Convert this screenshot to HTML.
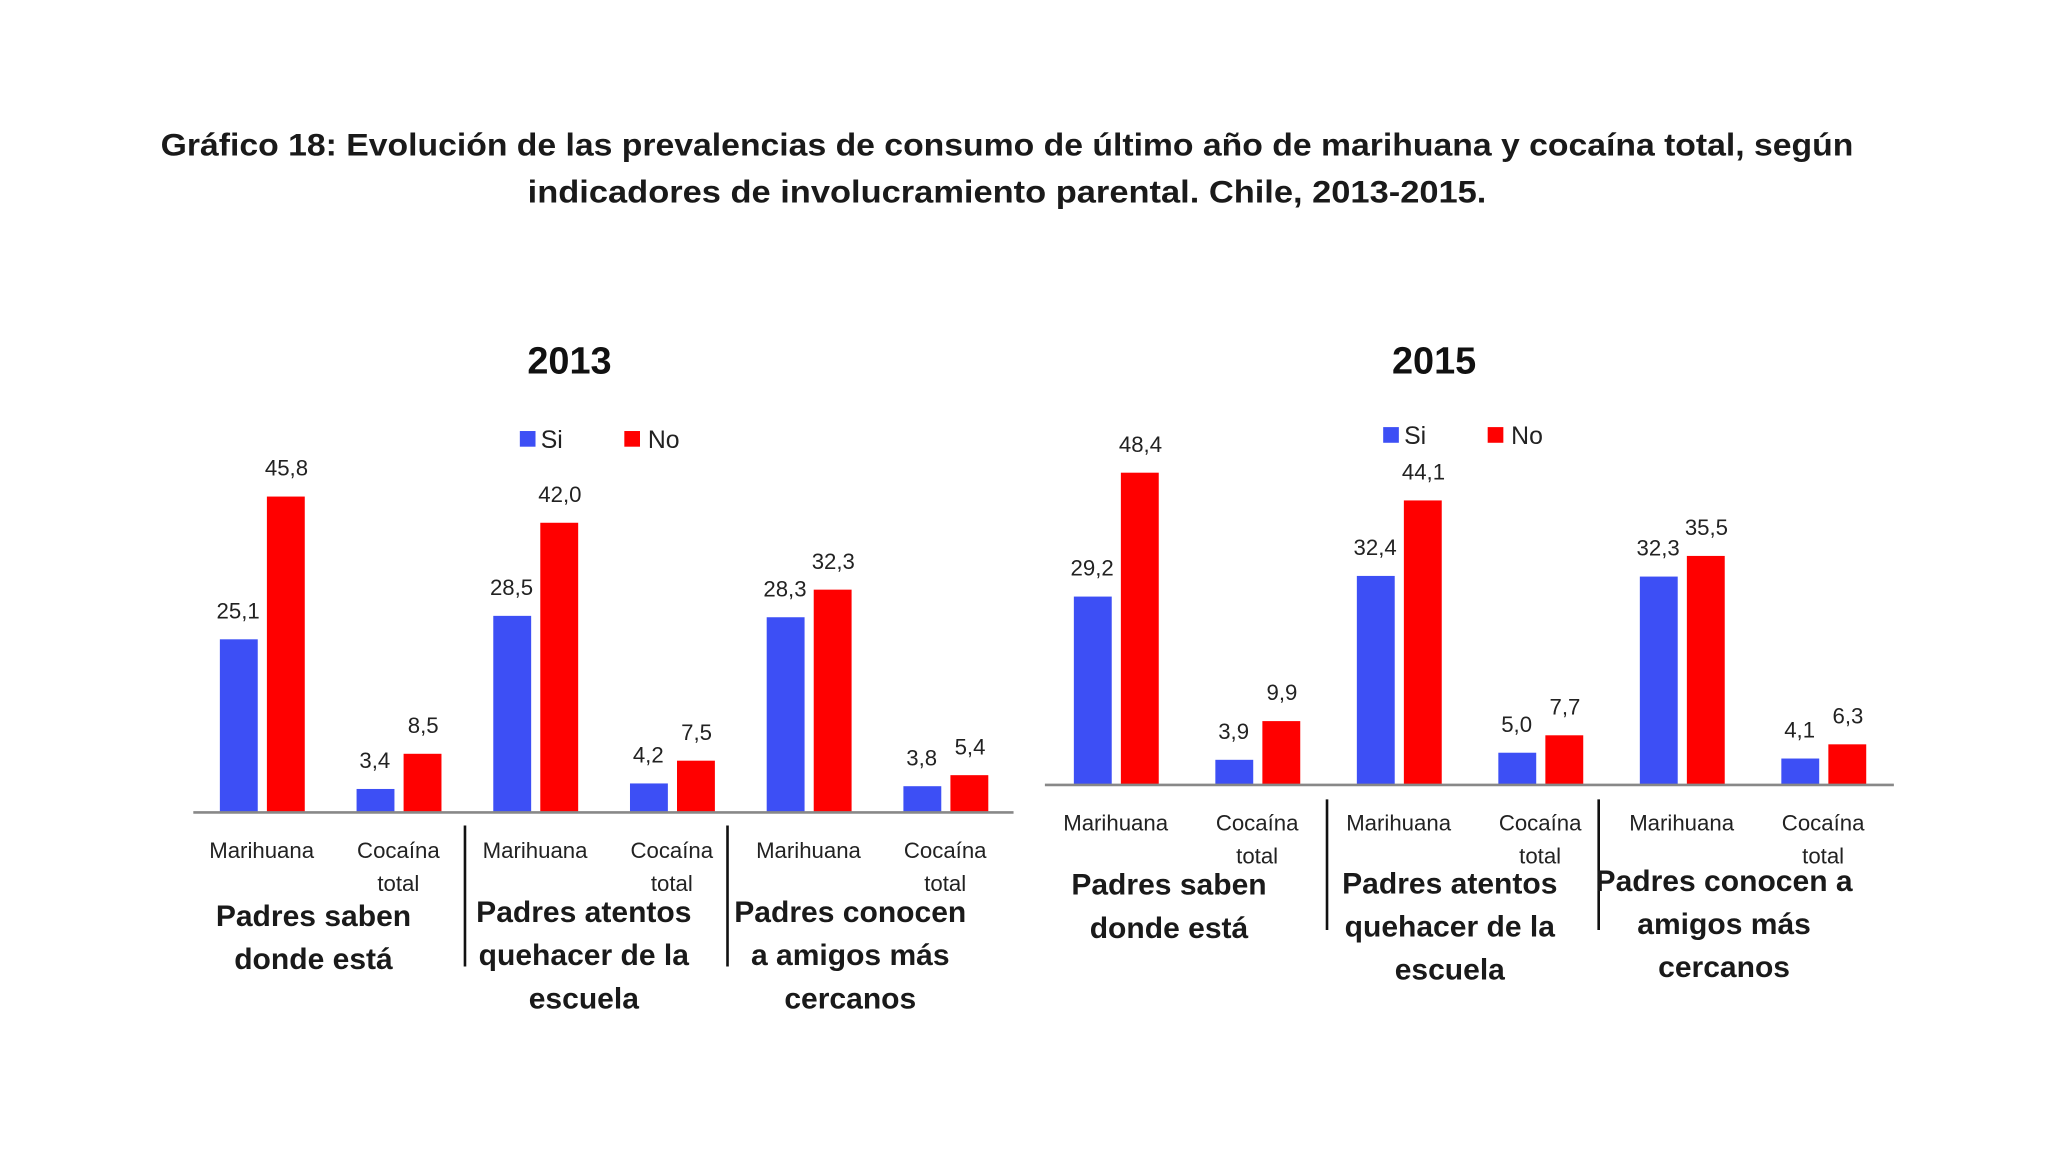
<!DOCTYPE html>
<html><head><meta charset="utf-8"><style>
html,body{margin:0;padding:0;background:#fff;}
svg{display:block;font-family:"Liberation Sans",sans-serif;}
</style></head><body>
<svg id="s" width="2048" height="1152" viewBox="0 0 1568 882" xmlns="http://www.w3.org/2000/svg">
<text x="771" y="119" text-anchor="middle" font-size="24" font-weight="bold" fill="#1a1a1a" textLength="1296" lengthAdjust="spacingAndGlyphs">Gráfico 18: Evolución de las prevalencias de consumo de último año de marihuana y cocaína total, según</text>
<text x="771" y="155" text-anchor="middle" font-size="24" font-weight="bold" fill="#1a1a1a" textLength="734" lengthAdjust="spacingAndGlyphs">indicadores de involucramiento parental. Chile, 2013-2015.</text>
<g id="g1"></g>
</svg>
<script>
const categories=["Marihuana","Cocaína total","Marihuana","Cocaína total","Marihuana","Cocaína total"];
const si2013=[25.1,3.4,28.5,4.2,28.3,3.8];
const no2013=[45.8,8.5,42.0,7.5,32.3,5.4];
const si2015=[29.2,3.9,32.4,5.0,32.3,4.1];
const no2015=[48.4,9.9,44.1,7.7,35.5,6.3];
const groups2013=[["Padres saben","donde está"],["Padres atentos","quehacer de la","escuela"],["Padres conocen","a amigos más","cercanos"]];
const groups2015=[["Padres saben","donde está"],["Padres atentos","quehacer de la","escuela"],["Padres conocen a","amigos más","cercanos"]];
const NS="http://www.w3.org/2000/svg";
const root=document.getElementById('g1');
function mk(tag,attrs,txt){const e=document.createElementNS(NS,tag);for(const k in attrs)e.setAttribute(k,attrs[k]);if(txt!=null)e.textContent=txt;root.appendChild(e);return e;}
function fmt(v){return v.toFixed(1).replace('.',',');}
function chart(cfg){
  const {x0,x1,base,scale,si,no,year,groups,legX,legY,catY,grpY,sepTop,sepBot,grpX,titleX,sepX}=cfg;
  const w=(x1-x0)/6;
  const xc=i=>x0+w*(i+0.5)+2;
  const y=v=>base-v*scale;
  let t=mk('text',{x:titleX,y:286,'text-anchor':'middle','font-size':29,'font-weight':'bold',fill:'#111'},year);
  
  let r=mk('rect',{x:legX,y:legY-6,width:12,height:12,fill:'#3d4ff5'});
  
  t=mk('text',{x:legX+16,y:legY+7,'font-size':19,fill:'#222'},'Si');
  
  r=mk('rect',{x:legX+80,y:legY-6,width:12,height:12,fill:'#ff0000'});
  
  t=mk('text',{x:legX+98,y:legY+7,'font-size':19,fill:'#222'},'No');
  
  for(let i=0;i<6;i++){
    const c=xc(i);
    r=mk('rect',{x:c-34,y:y(si[i]),width:29,height:si[i]*scale,fill:'#3d4ff5'});
    
    r=mk('rect',{x:c+2,y:y(no[i]),width:29,height:no[i]*scale,fill:'#ff0000'});
    
    t=mk('text',{x:c-20,y:y(si[i])-16,'text-anchor':'middle','font-size':17,fill:'#222'},fmt(si[i]));
    
    t=mk('text',{x:c+17,y:y(no[i])-16,'text-anchor':'middle','font-size':17,fill:'#222'},fmt(no[i]));
    
    const parts=categories[i].split(' ');
    parts.forEach((p,j)=>{
      t=mk('text',{x:c-2,y:catY+j*25,'text-anchor':'middle','font-size':17,fill:'#222'},p);
      
    });
  }
  const ax=mk('line',{x1:x0,y1:base,x2:x1,y2:base,stroke:'#888','stroke-width':2});
  
  sepX.forEach(sx=>{
    const l=mk('line',{x1:sx,y1:sepTop,x2:sx,y2:sepBot,stroke:'#111','stroke-width':2});
    
  });
  groups.forEach((g,gi)=>{
    g.forEach((line,j)=>{
      t=mk('text',{x:grpX[gi],y:grpY[gi]+j*33,'text-anchor':'middle','font-size':23,'font-weight':'bold',fill:'#1a1a1a'},line);
      
    });
  });
}
chart({x0:148,x1:776,base:622,scale:5.28,si:si2013,no:no2013,year:'2013',groups:groups2013,legX:398,legY:336,catY:657,grpY:[709,706,706],grpX:[240,447,651],sepTop:632,sepBot:740,titleX:436,sepX:[356,557]});
chart({x0:800,x1:1450,base:601,scale:4.94,si:si2015,no:no2015,year:'2015',groups:groups2015,legX:1059,legY:333,catY:636,grpY:[685,684,682],grpX:[895,1110,1320],sepTop:612,sepBot:712,titleX:1098,sepX:[1016,1224]});
</script>
</body></html>
